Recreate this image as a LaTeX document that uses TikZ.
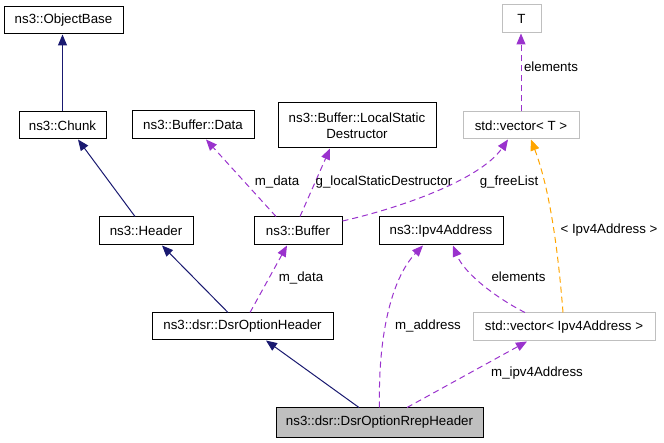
\documentclass[tikz,border=0pt]{standalone}
\usepackage{fontspec}
\setmainfont{Liberation Sans}
\usetikzlibrary{arrows.meta}
\definecolor{inh}{HTML}{191970}
\definecolor{usg}{HTML}{9A32CD}
\definecolor{tpl}{HTML}{FFA500}
\definecolor{undoc}{HTML}{BFBFBF}
\begin{document}
\begin{tikzpicture}[x=1pt,y=-1pt,
  font=\fontsize{13.3}{16}\selectfont,
  box/.style={draw=black, line width=1pt, inner sep=0pt, align=center},
  gbox/.style={box, draw=undoc},
  inharr/.style={draw=inh, line width=1pt, -{Triangle[length=11pt,width=9pt]}},
  usearr/.style={draw=usg, line width=1pt, dash pattern=on 6pt off 4pt, -{Triangle[length=11pt,width=9pt]}},
  tplarr/.style={draw=tpl, line width=1pt, dash pattern=on 6pt off 4pt, -{Triangle[length=11pt,width=9pt]}},
  lbl/.style={inner sep=0pt}]
\path[use as bounding box] (0,0) rectangle (664,443);
% nodes
\node[box, minimum width=119pt, minimum height=27pt] (ob) at (63.5,20.5) {ns3::ObjectBase};
\node[box, minimum width=87pt, minimum height=27pt] (chunk) at (62.5,125.5) {ns3::Chunk};
\node[box, minimum width=122pt, minimum height=28pt] (data) at (193,125) {ns3::Buffer::Data};
\node[box, minimum width=158pt, minimum height=45pt] (lsd) at (357,125.5) {ns3::Buffer::LocalStatic\\Destructor};
\node[gbox, minimum width=39pt, minimum height=28pt] (T) at (521.5,19) {T};
\node[gbox, minimum width=116pt, minimum height=27pt] (vecT) at (521,125.5) {std::vector< T >};
\node[box, minimum width=94pt, minimum height=28pt] (header) at (146,231) {ns3::Header};
\node[box, minimum width=88pt, minimum height=28pt] (buffer) at (298,231) {ns3::Buffer};
\node[box, minimum width=124pt, minimum height=28pt] (ipv4) at (441,231) {ns3::Ipv4Address};
\node[box, minimum width=181pt, minimum height=27pt] (doh) at (242.5,326.5) {ns3::dsr::DsrOptionHeader};
\node[gbox, minimum width=182pt, minimum height=28pt] (vecip) at (564,327) {std::vector< Ipv4Address >};
\node[box, fill=undoc, minimum width=207pt, minimum height=29pt] (rrep) at (379.5,422.5) {ns3::dsr::DsrOptionRrepHeader};
% inheritance
\draw[inharr] (chunk.north) -- (chunk.north |- ob.south);
\draw[inharr] ([xshift=-11pt]header.north) -- ([xshift=15.5pt]chunk.south);
\draw[inharr] ([xshift=-14.5pt]doh.north) -- ([xshift=16pt]header.south);
\draw[inharr] ([xshift=-20.5pt]rrep.north) -- ([xshift=23.5pt]doh.south);
% usage
\draw[usearr] ([xshift=7.5pt]doh.north) -- ([xshift=-11pt]buffer.south);
\draw[usearr] ([xshift=-22pt]buffer.north) -- ([xshift=13pt]data.south);
\draw[usearr] ([xshift=2pt]buffer.north) -- ([xshift=-27pt]lsd.south);
\draw[usearr] ([yshift=10pt]buffer.east) .. controls (400,208) and (480,180) .. ([xshift=-13pt]vecT.south);
\draw[usearr] (vecT.north) -- (vecT.north |- T.south);
\draw[tplarr] ([xshift=-1pt]vecip.north) .. controls (558,250) and (550,190) .. ([xshift=10pt]vecT.south);
\draw[usearr] (rrep.north) .. controls (378,340) and (390,280) .. ([xshift=-18pt]ipv4.south);
\draw[usearr] ([xshift=-39pt]vecip.north) .. controls (500,300) and (465,275) .. ([xshift=12pt]ipv4.south);
\draw[usearr] ([xshift=27.5pt]rrep.north) -- ([xshift=-37pt]vecip.south);
% labels
\node[lbl] (l1) at (277,182) {m\_data};
\node[lbl] (l2) at (384,182) {g\_localStaticDestructor};
\node[lbl] (l3) at (509,182) {g\_freeList};
\node[lbl] (l4) at (551,67) {elements};
\node[lbl] (l5) at (609,230) {< Ipv4Address >};
\node[lbl] (l6) at (301,278) {m\_data};
\node[lbl] (l7) at (428,326) {m\_address};
\node[lbl] (l8) at (518.5,277) {elements};
\node[lbl] (l9) at (537,373) {m\_ipv4Address};
\end{tikzpicture}
\end{document}
